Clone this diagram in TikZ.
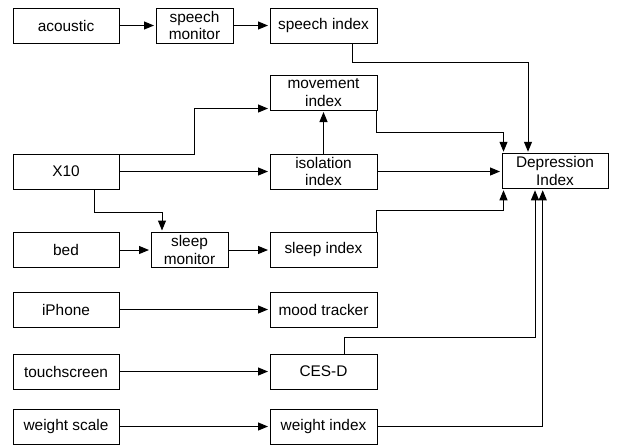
\documentclass[tikz,border=0pt]{standalone}
\usepackage{fontspec}
\setmainfont{Liberation Sans}
\usetikzlibrary{arrows.meta}
\begin{document}
\begin{tikzpicture}[x=1pt,y=-1pt,
  box/.style={draw,line width=1pt,inner sep=0pt,align=center,
    font=\fontsize{15.4}{17.5}\selectfont,minimum height=35pt},
  lbox/.style={box,minimum width=106pt},
  mbox/.style={box,minimum width=77pt},
  rbox/.style={box,minimum width=107pt},
  arr/.style={line width=1pt,-{Triangle[length=10pt,width=8pt]},shorten >=1.5pt}]
\useasboundingbox (0,0) rectangle (618,445);
% left column
\node[lbox] (ac) at (66,25.5) {acoustic};
\node[lbox] (x10) at (66,171.5) {X10};
\node[lbox] (bed) at (66,250) {bed};
\node[lbox] (iph) at (66,309.5) {iPhone};
\node[lbox] (ts) at (66,371.5) {touchscreen};
\node[lbox] (ws) at (66,426.5) {weight scale};
% middle
\node[mbox] (spm) at (194.5,25.5) {speech\\monitor};
\node[mbox] (slm) at (189.5,250) {sleep\\monitor};
% right column
\node[rbox] (spi) at (323.5,25.5) {speech index};
\node[rbox] (mi) at (323.5,92.5) {movement\\index};
\node[rbox] (ii) at (323.5,171.5) {isolation\\index};
\node[rbox] (sli) at (323.5,250) {sleep index};
\node[rbox] (mt) at (323.5,309.5) {mood tracker};
\node[rbox] (ces) at (323.5,371.5) {CES-D};
\node[rbox] (wi) at (323.5,426.5) {weight index};
% depression
\node[box,minimum width=106pt,minimum height=34.5pt] (dep) at (555,171) {Depression\\Index};
% connectors
\draw[arr] (ac) -- (spm);
\draw[arr] (spm) -- (spi);
\draw[arr] ([xshift=28.5pt]spi.south) -- ++(0,19) -| ([xshift=-27pt]dep.north);
\draw[arr] ([xshift=-1pt]mi.south east) -- ++(0,21.7) -| ([xshift=2pt]dep.north west);
\draw[arr] (ii.east) -- (ii.east -| dep.west);
\draw[arr] (x10.east) -- (ii.west);
\draw[arr] ([yshift=-1pt]x10.north east) -- ++(75,0) |- ([yshift=2pt]mi.south west);
\draw[arr] (ii.north) -- (mi.south);
\draw[arr] ([xshift=28pt]x10.south) -- ++(0,23) -| ([xshift=-27.5pt]slm.north);
\draw[arr] (bed) -- (slm);
\draw[arr] (slm) -- (sli);
\draw[arr] ([xshift=-1pt]sli.north east) -- ++(0,-21.5) -| ([xshift=2pt]dep.south west);
\draw[arr] (iph) -- (mt);
\draw[arr] (ts) -- (ces);
\draw[arr] ([xshift=20.5pt]ces.north) -- ++(0,-16) -| ([xshift=-20pt]dep.south);
\draw[arr] (ws) -- (wi);
\draw[arr] (wi.east) -| ([xshift=-12.3pt]dep.south);
\end{tikzpicture}
\end{document}
